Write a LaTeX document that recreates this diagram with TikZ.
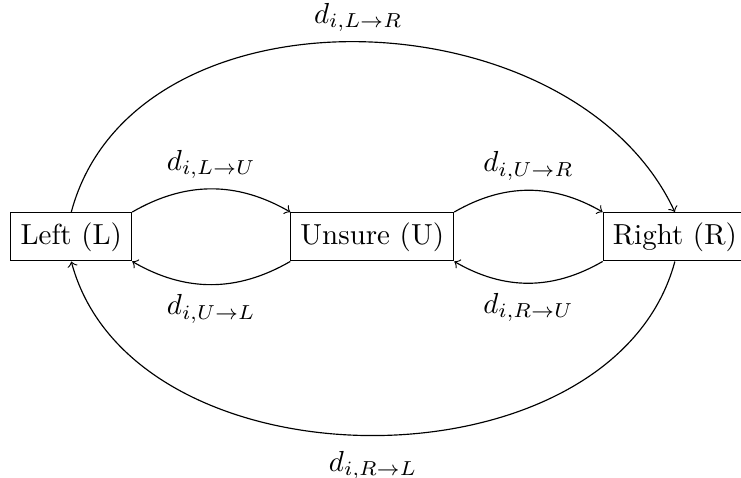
\documentclass[tikz,border=0pt]{standalone}
\usepackage{amsmath,amssymb}
\usepackage{tikz}
\usetikzlibrary{positioning}
\tikzset{
  state/.style={rectangle, draw=black, text centered},
  arrow/.style={->},
  smallbend/.style={bend left=30},
  bigbend/.style={bend left=75, looseness=1.02}
}

\begin{document}
\begin{tikzpicture}
% frame, cuts the right box on purpose
\useasboundingbox (-24.6pt,-83.1pt) rectangle (231.1pt,81.7pt);

\node[state] (L) at (0,0) {Left (L)};
\node[state] (U) at (3.65,0) {Unsure (U)};
\node[state] (R) at (7.32,0) {Right (R)};

% neighbours
\draw[arrow] (L.north east) to[smallbend] node[above] {$d_{i,L\to U}$} (U.north west);
\draw[arrow] (U.south west) to[smallbend] node[below] {$d_{i,U\to L}$} (L.south east);
\draw[arrow] (U.north east) to[smallbend] node[above] {$d_{i,U\to R}$} (R.north west);
\draw[arrow] (R.south west) to[smallbend] node[below] {$d_{i,R\to U}$} (U.south east);

% outer jumps
\draw[arrow] (L.north) to[out=75, in=115, looseness=1.03] node[above] {$d_{i,L\to R}$} (R.north);
\draw[arrow] (R.south) to[bigbend] node[below, yshift=-2pt] {$d_{i,R\to L}$} (L.south);
\end{tikzpicture}
\end{document}
